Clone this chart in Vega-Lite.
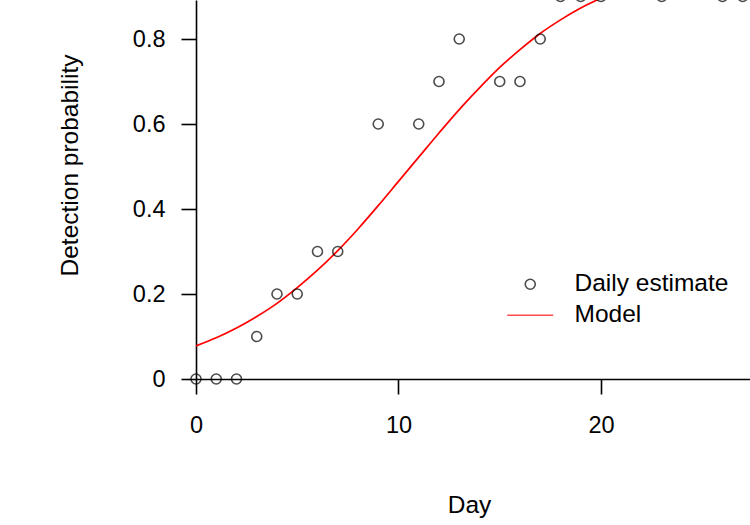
{
  "$schema": "https://vega.github.io/schema/vega-lite/v6.json",
  "width": 554,
  "height": 379,
  "autosize": {"type": "none"},
  "padding": {"left": 196, "top": 0, "right": 0, "bottom": 146},
  "background": "white",
  "config": {
    "view": {"stroke": null},
    "font": "Liberation Sans",
    "axis": {
      "grid": false,
      "domainColor": "black",
      "tickColor": "black",
      "labelColor": "black",
      "titleColor": "black",
      "domainWidth": 1.6,
      "tickWidth": 1.6,
      "tickSize": 15,
      "labelFontSize": 23.5,
      "titleFontSize": 24.5,
      "titleFontWeight": "normal",
      "labelFont": "Liberation Sans",
      "titleFont": "Liberation Sans",
      "labelFlush": false
    }
  },
  "datasets": {
    "points": [
      {"day": 0, "p": 0, "series": "Daily estimate"},
      {"day": 1, "p": 0, "series": "Daily estimate"},
      {"day": 2, "p": 0, "series": "Daily estimate"},
      {"day": 3, "p": 0.1, "series": "Daily estimate"},
      {"day": 4, "p": 0.2, "series": "Daily estimate"},
      {"day": 5, "p": 0.2, "series": "Daily estimate"},
      {"day": 6, "p": 0.3, "series": "Daily estimate"},
      {"day": 7, "p": 0.3, "series": "Daily estimate"},
      {"day": 9, "p": 0.6, "series": "Daily estimate"},
      {"day": 11, "p": 0.6, "series": "Daily estimate"},
      {"day": 12, "p": 0.7, "series": "Daily estimate"},
      {"day": 13, "p": 0.8, "series": "Daily estimate"},
      {"day": 15, "p": 0.7, "series": "Daily estimate"},
      {"day": 16, "p": 0.7, "series": "Daily estimate"},
      {"day": 17, "p": 0.8, "series": "Daily estimate"},
      {"day": 18, "p": 0.9, "series": "Daily estimate"},
      {"day": 19, "p": 0.9, "series": "Daily estimate"},
      {"day": 20, "p": 0.9, "series": "Daily estimate"},
      {"day": 23, "p": 0.9, "series": "Daily estimate"},
      {"day": 26, "p": 0.9, "series": "Daily estimate"},
      {"day": 27, "p": 0.9, "series": "Daily estimate"}
    ],
    "model": [
      {"day": 0, "p": 0.078, "series": "Model"},
      {"day": 1, "p": 0.097, "series": "Model"},
      {"day": 2, "p": 0.120, "series": "Model"},
      {"day": 3, "p": 0.147, "series": "Model"},
      {"day": 4, "p": 0.178, "series": "Model"},
      {"day": 5, "p": 0.215, "series": "Model"},
      {"day": 6, "p": 0.256, "series": "Model"},
      {"day": 7, "p": 0.302, "series": "Model"},
      {"day": 8, "p": 0.353, "series": "Model"},
      {"day": 9, "p": 0.408, "series": "Model"},
      {"day": 10, "p": 0.465, "series": "Model"},
      {"day": 11, "p": 0.522, "series": "Model"},
      {"day": 12, "p": 0.579, "series": "Model"},
      {"day": 13, "p": 0.634, "series": "Model"},
      {"day": 14, "p": 0.685, "series": "Model"},
      {"day": 15, "p": 0.733, "series": "Model"},
      {"day": 16, "p": 0.775, "series": "Model"},
      {"day": 17, "p": 0.813, "series": "Model"},
      {"day": 18, "p": 0.845, "series": "Model"},
      {"day": 19, "p": 0.873, "series": "Model"},
      {"day": 20, "p": 0.896, "series": "Model"},
      {"day": 21, "p": 0.916, "series": "Model"},
      {"day": 22, "p": 0.932, "series": "Model"}
    ]
  },
  "encoding": {
    "x": {
      "field": "day",
      "type": "quantitative",
      "scale": {"domain": [0, 27.36], "nice": false, "zero": false},
      "axis": {
        "values": [0, 10, 20],
        "title": "Day",
        "labelPadding": 19,
        "titleX": 273,
        "titleY": 133,
        "titleAlign": "center",
        "titleBaseline": "alphabetic",
        "titleAnchor": null
      }
    },
    "y": {
      "field": "p",
      "type": "quantitative",
      "scale": {"domain": [0, 0.8918], "nice": false, "zero": false},
      "axis": {
        "values": [0, 0.2, 0.4, 0.6, 0.8],
        "format": "~g",
        "title": "Detection probability",
        "labelPadding": 16,
        "labelBaseline": "middle",
        "titleAngle": 270,
        "titleX": -118.5,
        "titleY": 165,
        "titleAlign": "center",
        "titleBaseline": "alphabetic",
        "titleAnchor": null
      }
    }
  },
  "layer": [
    {
      "data": {"name": "model"},
      "mark": {"type": "line", "strokeWidth": 1.7, "interpolate": "monotone", "clip": false},
      "encoding": {
        "color": {
          "field": "series",
          "type": "nominal",
          "scale": {"domain": ["Daily estimate", "Model"], "range": ["black", "red"]},
          "legend": {
            "title": null,
            "orient": "none",
            "legendX": 322,
            "legendY": 272,
            "padding": 0,
            "labelFontSize": 24.5,
            "labelColor": "black",
            "labelFont": "Liberation Sans",
            "labelOffset": 32,
            "rowPadding": 6,
            "symbolSize": 100,
            "symbolStrokeWidth": 1.6
          }
        }
      }
    },
    {
      "data": {"name": "points"},
      "mark": {"type": "point", "filled": false, "size": 100, "strokeWidth": 1.6, "clip": false},
      "encoding": {
        "color": {
          "field": "series",
          "type": "nominal",
          "scale": {"domain": ["Daily estimate", "Model"], "range": ["black", "red"]},
          "legend": {
            "title": null,
            "orient": "none",
            "legendX": 322,
            "legendY": 272,
            "padding": 0,
            "labelFontSize": 24.5,
            "labelColor": "black",
            "labelFont": "Liberation Sans",
            "labelOffset": 32,
            "rowPadding": 6,
            "symbolSize": 100,
            "symbolStrokeWidth": 1.6
          }
        },
        "shape": {
          "field": "series",
          "type": "nominal",
          "scale": {"domain": ["Daily estimate", "Model"], "range": ["circle", "M-4.6,0L4.6,0"]},
          "legend": {
            "title": null,
            "orient": "none",
            "legendX": 322,
            "legendY": 272,
            "padding": 0,
            "labelFontSize": 24.5,
            "labelColor": "black",
            "labelFont": "Liberation Sans",
            "labelOffset": 32,
            "rowPadding": 6,
            "symbolSize": 100,
            "symbolStrokeWidth": 1.6
          }
        }
      }
    }
  ]
}
